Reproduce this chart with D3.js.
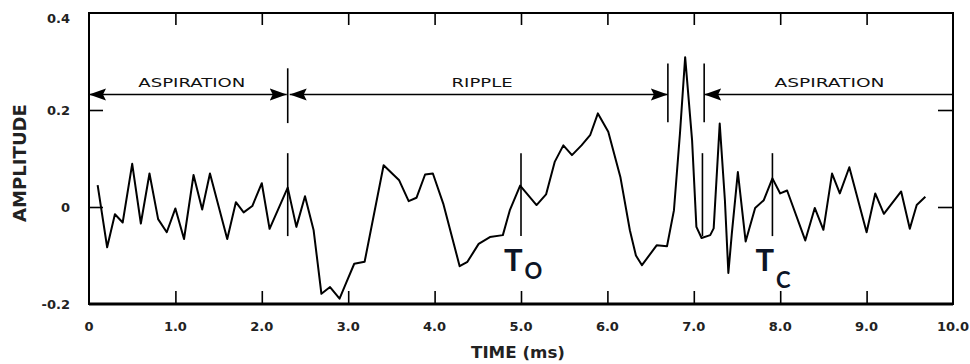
<!DOCTYPE html>
<html>
<head>
<meta charset="utf-8">
<script src="https://cdn.jsdelivr.net/npm/d3@7"></script>
<style>
  html, body { margin: 0; padding: 0; background: #fff; }
  svg { display: block; }
</style>
</head>
<body>
<svg id="chart" width="970" height="364"></svg>
<script>
// ---- data ----
const timeMs = [0.10,0.21,0.30,0.39,0.50,0.60,0.70,0.80,0.90,1.00,1.10,1.21,1.31,1.40,1.60,1.70,1.79,1.89,2.00,2.09,
  2.30,2.40,2.50,2.60,2.69,2.79,2.90,2.98,3.07,3.19,3.41,3.59,3.70,3.79,3.89,3.98,4.10,4.29,4.38,4.51,
  4.64,4.79,4.87,4.99,5.18,5.29,5.39,5.49,5.59,5.70,5.80,5.89,6.01,6.15,6.26,6.33,6.40,6.57,6.69,6.77,6.84,
  6.90,6.98,7.03,7.09,7.19,7.23,7.30,7.36,7.40,7.44,7.51,7.60,7.71,7.81,7.91,8.00,8.08,8.29,8.40,8.50,
  8.60,8.69,8.80,9.00,9.10,9.20,9.40,9.50,9.58,9.68];
const amplitude = [0.045,-0.083,-0.015,-0.032,0.089,-0.034,0.069,-0.025,-0.052,-0.003,-0.066,0.066,-0.005,0.069,-0.066,0.010,-0.011,0.002,0.049,-0.045,
  0.040,-0.041,0.022,-0.048,-0.179,-0.165,-0.189,-0.155,-0.117,-0.113,0.086,0.055,0.012,0.019,0.067,0.069,0.007,-0.122,-0.113,-0.076,
  -0.062,-0.058,-0.007,0.044,0.004,0.026,0.093,0.127,0.107,0.127,0.148,0.193,0.155,0.062,-0.048,-0.100,-0.120,-0.079,-0.081,-0.007,0.152,
  0.309,0.138,-0.041,-0.064,-0.058,-0.044,0.172,0.014,-0.136,-0.055,0.072,-0.071,-0.002,0.014,0.059,0.028,0.034,-0.069,-0.002,-0.047,
  0.069,0.028,0.082,-0.052,0.028,-0.014,0.032,-0.045,0.004,0.021];

const xTicks = [0,1,2,3,4,5,6,7,8,9,10];
const xTickLabels = ["0","1.0","2.0","3.0","4.0","5.0","6.0","7.0","8.0","9.0","10.0"];
const yTicks = [-0.2,0,0.2,0.4];
const yTickLabels = ["-0.2","0","0.2","0.4"];

// region annotations: [start, end] in ms
const regionNames = ["ASPIRATION","RIPPLE","ASPIRATION"];
const regionStart = [0, 2.3, 7.12];
const regionEnd = [2.3, 6.70, 10];
const regionLevel = 0.232;
// event marker times
const markerTimes = [2.3, 5.0, 7.10, 7.91];
const markerLabels = ["", "O", "", "C"];

// ---- layout ----
const svg = d3.select("#chart");
const x = d3.scaleLinear().domain([0, 10]).range([89, 953]);
const y = d3.scaleLinear().domain([-0.2, 0.4]).range([304, 13]);

const axisFont = "'DejaVu Sans', sans-serif";

// frame
svg.append("rect")
  .attr("x", x(0)).attr("y", y(0.4))
  .attr("width", x(10) - x(0)).attr("height", y(-0.2) - y(0.4))
  .attr("fill", "none").attr("stroke", "#000").attr("stroke-width", 2);
svg.append("line")
  .attr("x1", x(0)).attr("x2", x(10)).attr("y1", y(-0.2)).attr("y2", y(-0.2))
  .attr("stroke", "#000").attr("stroke-width", 3);

// axes (ticks pointing inward)
const axBottom = svg.append("g").attr("transform", `translate(0,${y(-0.2)})`)
  .call(d3.axisTop(x).tickValues(xTicks.slice(1, -1)).tickSize(13).tickFormat(""));
const axTop = svg.append("g").attr("transform", `translate(0,${y(0.4)})`)
  .call(d3.axisBottom(x).tickValues(xTicks.slice(1, -1)).tickSize(12).tickFormat(""));
const axLeft = svg.append("g").attr("transform", `translate(${x(0)},0)`)
  .call(d3.axisRight(y).tickValues([0, 0.2]).tickSize(14).tickFormat(""));
const axRight = svg.append("g").attr("transform", `translate(${x(10)},0)`)
  .call(d3.axisLeft(y).tickValues([0, 0.2]).tickSize(15).tickFormat(""));
[axBottom, axTop, axLeft, axRight].forEach(g => {
  g.select(".domain").remove();
  g.selectAll(".tick line").attr("stroke", "#000").attr("stroke-width", 1.6);
});

// tick labels
svg.append("g").selectAll("text").data(xTicks).join("text")
  .attr("x", d => x(d)).attr("y", 331)
  .attr("text-anchor", "middle")
  .attr("font-family", axisFont).attr("font-weight", "bold").attr("font-size", 13)
  .attr("fill", "#222")
  .text((d, i) => xTickLabels[i]);
svg.append("g").selectAll("text").data(yTicks).join("text")
  .attr("x", 70).attr("y", d => y(d) + 5 + (d === 0.4 ? 5 : 0))
  .attr("text-anchor", "end")
  .attr("font-family", axisFont).attr("font-weight", "bold").attr("font-size", 13)
  .attr("fill", "#222")
  .text((d, i) => yTickLabels[i]);

// axis titles
svg.append("text")
  .attr("x", 518).attr("y", 358).attr("text-anchor", "middle")
  .attr("font-family", axisFont).attr("font-weight", "bold").attr("font-size", 15)
  .attr("textLength", 94).attr("lengthAdjust", "spacingAndGlyphs")
  .attr("fill", "#222")
  .text("TIME (ms)");
svg.append("text")
  .attr("transform", "translate(26,163) rotate(-90)").attr("text-anchor", "middle")
  .attr("font-family", axisFont).attr("font-weight", "bold").attr("font-size", 17)
  .attr("textLength", 118).attr("lengthAdjust", "spacingAndGlyphs")
  .attr("fill", "#222")
  .text("AMPLITUDE");

// arrow markers
const defs = svg.append("defs");
defs.append("marker").attr("id", "arrEnd")
  .attr("markerUnits", "userSpaceOnUse").attr("markerWidth", 18).attr("markerHeight", 14)
  .attr("viewBox", "0 -7 18 14").attr("refX", 17).attr("refY", 0).attr("orient", "auto")
  .append("path").attr("d", "M0,-6L17,0L0,6L3,0Z").attr("fill", "#000");
defs.append("marker").attr("id", "arrStart")
  .attr("markerUnits", "userSpaceOnUse").attr("markerWidth", 18).attr("markerHeight", 14)
  .attr("viewBox", "0 -7 18 14").attr("refX", 17).attr("refY", 0).attr("orient", "auto-start-reverse")
  .append("path").attr("d", "M0,-6L17,0L0,6L3,0Z").attr("fill", "#000");

// region lines
const regions = regionNames.map((n, i) => ({ name: n, s: regionStart[i], e: regionEnd[i], i }));
svg.append("g").selectAll("line").data(regions).join("line")
  .attr("x1", d => x(d.s) + (d.i === 1 ? 2 : 0)).attr("x2", d => x(d.e) - (d.i === 0 ? 1 : 0))
  .attr("y1", y(regionLevel)).attr("y2", y(regionLevel))
  .attr("stroke", "#000").attr("stroke-width", 1.5)
  .attr("marker-start", "url(#arrStart)")
  .attr("marker-end", d => d.i === 2 ? null : "url(#arrEnd)");

// region boundary bars
const bars = [
  { t: regionEnd[0], a: 0.286, b: 0.173 },
  { t: regionEnd[1], a: 0.296, b: 0.175 },
  { t: regionStart[2], a: 0.296, b: 0.175 }
];
svg.append("g").selectAll("line").data(bars).join("line")
  .attr("x1", d => x(d.t)).attr("x2", d => x(d.t))
  .attr("y1", d => y(d.a)).attr("y2", d => y(d.b))
  .attr("stroke", "#000").attr("stroke-width", 1.6);

// region names
const nameCenters = [1.19, 4.55, 8.57];
const nameWidths = [107, 61, 110];
svg.append("g").selectAll("text").data(regions).join("text")
  .attr("x", d => x(nameCenters[d.i])).attr("y", 87)
  .attr("text-anchor", "middle")
  .attr("font-family", axisFont).attr("font-size", 13).attr("font-weight", "normal")
  .attr("textLength", d => nameWidths[d.i]).attr("lengthAdjust", "spacingAndGlyphs")
  .attr("fill", "#111")
  .text(d => d.name);

// event marker lines
svg.append("g").selectAll("line").data(markerTimes).join("line")
  .attr("x1", d => x(d)).attr("x2", d => x(d))
  .attr("y1", y(0.111)).attr("y2", y(-0.06))
  .attr("stroke", "#000").attr("stroke-width", 1.6);

// waveform
const pts = timeMs.map((t, i) => [t, amplitude[i]]);
svg.append("path")
  .datum(pts)
  .attr("fill", "none").attr("stroke", "#000").attr("stroke-width", 2)
  .attr("stroke-linejoin", "round")
  .attr("d", d3.line().x(d => x(d[0])).y(d => y(d[1])));

// T_O, T_C labels
const tFont = "Lato, 'Open Sans', sans-serif";
markerTimes.forEach((t, i) => {
  if (!markerLabels[i]) return;
  const g = svg.append("text")
    .attr("x", x(t) - 17).attr("y", 271)
    .attr("font-family", tFont).attr("font-weight", "bold").attr("fill", "#0d1526");
  g.append("tspan").attr("font-size", 31).text("T");
  g.append("tspan").attr("font-size", 22)
    .attr("dx", 2).attr("dy", markerLabels[i] === "O" ? 8 : 17)
    .text(markerLabels[i]);
});
</script>
</body>
</html>
